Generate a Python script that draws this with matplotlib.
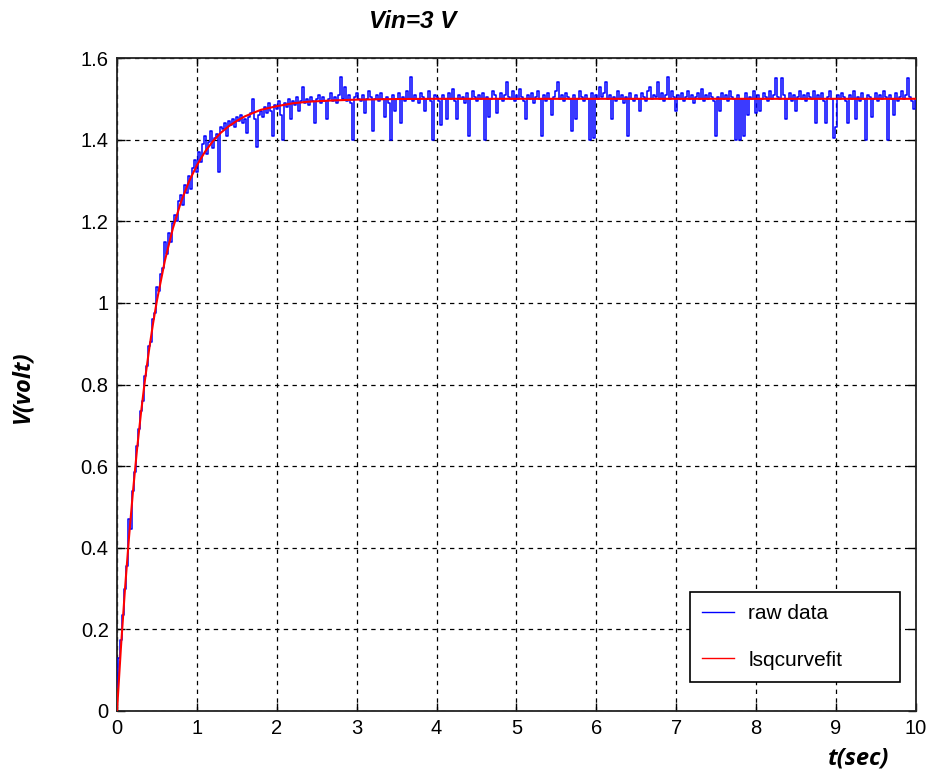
import matplotlib
matplotlib.use("Agg")
import matplotlib.pyplot as plt
import numpy as np

plt.rcParams['font.family'] = ['Liberation Sans', 'DejaVu Sans']

# ---- data ----
raw_dt = 0.025  # sampling step of the raw series (s)
raw_mv = [
    60, 130, 175, 235, 300, 355, 470, 445, 540, 585, 650, 690, 735, 760, 820, 845, 895, 905, 960, 975,
    1040, 1030, 1070, 1085, 1150, 1120, 1170, 1150, 1195, 1215, 1200, 1250, 1265, 1240, 1290, 1270, 1310, 1280, 1330, 1350,
    1320, 1370, 1345, 1390, 1410, 1365, 1395, 1420, 1380, 1405, 1415, 1320, 1430, 1425, 1440, 1410, 1445, 1435, 1450, 1430,
    1455, 1445, 1460, 1440, 1450, 1416, 1455, 1465, 1500, 1450, 1383, 1460, 1470, 1455, 1480, 1465, 1490, 1470, 1410, 1485,
    1475, 1495, 1460, 1400, 1490, 1480, 1500, 1450, 1495, 1485, 1505, 1470, 1495, 1530, 1490, 1500, 1485, 1505, 1495, 1440,
    1500, 1510, 1490, 1505, 1495, 1450, 1500, 1515, 1495, 1505, 1490, 1510, 1554, 1500, 1530, 1495, 1510, 1490, 1400, 1505,
    1515, 1500, 1495, 1510, 1465, 1500, 1520, 1505, 1420, 1500, 1510, 1495, 1515, 1500, 1455, 1505, 1490, 1400, 1510, 1470,
    1500, 1515, 1440, 1505, 1495, 1520, 1500, 1554, 1495, 1510, 1500, 1490, 1515, 1505, 1470, 1500, 1520, 1495, 1400, 1510,
    1505, 1495, 1436, 1510, 1500, 1450, 1515, 1500, 1525, 1495, 1450, 1510, 1500, 1505, 1490, 1515, 1410, 1500, 1520, 1505,
    1495, 1510, 1500, 1515, 1400, 1505, 1455, 1500, 1520, 1510, 1465, 1500, 1515, 1495, 1510, 1542, 1505, 1500, 1520, 1495,
    1510, 1500, 1525, 1505, 1495, 1450, 1510, 1500, 1515, 1490, 1505, 1520, 1500, 1410, 1510, 1495, 1515, 1500, 1460, 1505,
    1520, 1540, 1500, 1510, 1495, 1515, 1505, 1500, 1420, 1510, 1450, 1500, 1520, 1505, 1495, 1510, 1500, 1400, 1515, 1405,
    1510, 1500, 1530, 1505, 1515, 1540, 1500, 1510, 1450, 1505, 1495, 1520, 1500, 1510, 1490, 1505, 1410, 1515, 1500, 1495,
    1510, 1500, 1470, 1515, 1505, 1495, 1520, 1530, 1500, 1510, 1505, 1540, 1500, 1515, 1495, 1510, 1554, 1500, 1520, 1505,
    1470, 1510, 1500, 1515, 1495, 1505, 1520, 1500, 1510, 1490, 1505, 1515, 1500, 1525, 1495, 1510, 1500, 1515, 1505, 1495,
    1410, 1505, 1470, 1515, 1500, 1510, 1495, 1520, 1505, 1500, 1400, 1510, 1400, 1500, 1410, 1515, 1460, 1505, 1500, 1520,
    1465, 1510, 1470, 1500, 1515, 1505, 1495, 1520, 1500, 1510, 1550, 1505, 1500, 1550, 1510, 1450, 1500, 1515, 1495, 1510,
    1470, 1505, 1520, 1500, 1510, 1495, 1515, 1505, 1500, 1520, 1440, 1510, 1500, 1515, 1495, 1440, 1505, 1520, 1500, 1405,
    1430, 1510, 1500, 1515, 1505, 1495, 1440, 1510, 1500, 1520, 1450, 1505, 1495, 1515, 1500, 1400, 1510, 1505, 1455, 1500,
    1515, 1495, 1510, 1500, 1520, 1505, 1400, 1510, 1500, 1460, 1515, 1495, 1505, 1520, 1500, 1510, 1550, 1505, 1495, 1475,
    1500,
]

fit_t = [0, 0.05, 0.1, 0.15, 0.2, 0.25, 0.3, 0.35, 0.4, 0.45, 0.5, 0.6, 0.7, 0.8, 0.9,
         1.0, 1.1, 1.2, 1.3, 1.4, 1.5, 1.6, 1.8, 2.0, 2.2, 2.4, 2.7, 3.0, 3.5, 4.0, 10.0]
fit_v = [0, 0.158, 0.299, 0.425, 0.538, 0.640, 0.730, 0.811, 0.883, 0.948, 1.006, 1.104, 1.183, 1.247, 1.297,
         1.337, 1.370, 1.396, 1.417, 1.433, 1.446, 1.457, 1.473, 1.482, 1.489, 1.493, 1.496, 1.498, 1.4995, 1.500, 1.500]

x_ticks = [0, 1, 2, 3, 4, 5, 6, 7, 8, 9, 10]
y_ticks = [0, 0.2, 0.4, 0.6, 0.8, 1.0, 1.2, 1.4, 1.6]
y_tick_labels = ["0", "0.2", "0.4", "0.6", "0.8", "1", "1.2", "1.4", "1.6"]

title_text = "Vin=3 V"
xlabel_text = "t(sec)"
ylabel_text = "V(volt)"
legend_labels = ["raw data", "lsqcurvefit"]

# ---- figure ----
fig = plt.figure(figsize=(9.28, 7.73), dpi=100)
ax = fig.add_axes([117/928, 1-711/773, (916-117)/928, (711-58)/773])

raw_t = np.arange(len(raw_mv)) * raw_dt
raw_v = np.array(raw_mv) / 1000.0

ax.plot(raw_t, raw_v, color=(0, 0, 1), lw=1.1, drawstyle='steps-mid',
        label=legend_labels[0], zorder=3)
ax.plot(fit_t, fit_v, color=(1, 0, 0), lw=1.5, label=legend_labels[1], zorder=4)

ax.set_xlim(0, 10)
ax.set_ylim(0, 1.6)
ax.set_xticks(x_ticks)
ax.set_xticklabels([str(v) for v in x_ticks])
ax.set_yticks(y_ticks)
ax.set_yticklabels(y_tick_labels)
ax.tick_params(direction='in', length=6, width=1, top=True, right=True,
               labelsize=14.5, pad=6, colors='black')
for s in ax.spines.values():
    s.set_linewidth(1.3)
    s.set_color('#222222')

ax.grid(True, color='black', linestyle=(0, (3.5, 3.5)), linewidth=0.9)
ax.set_axisbelow(True)

fig.text(413/928, 1-22/773, title_text, ha='center', va='center',
         fontsize=17.5, fontweight='bold', fontstyle='italic',
         family=['Liberation Sans Narrow', 'Liberation Sans', 'DejaVu Sans'])
fig.text(22/928, 1-387/773, ylabel_text, ha='center', va='center', rotation=90,
         fontsize=17, fontweight='bold', fontstyle='italic',
         family=['Open Sans', 'DejaVu Sans'])
fig.text(859/928, 1-758/773, xlabel_text, ha='center', va='center',
         fontsize=17, fontweight='bold', fontstyle='italic',
         family=['Open Sans', 'DejaVu Sans'])

leg = ax.legend(loc='lower left', mode='expand',
                bbox_to_anchor=((690-117)/799, (711-682)/653, 210/799, 89/653),
                fontsize=15, frameon=True, fancybox=False, edgecolor='black', framealpha=1,
                labelspacing=1.3, handlelength=1.5, borderpad=0.6, handletextpad=0.7,
                borderaxespad=0)
leg.get_frame().set_linewidth(1.2)
for h in leg.get_lines():
    h.set_linewidth(1.0)

fig.savefig("out.png", dpi=100)
